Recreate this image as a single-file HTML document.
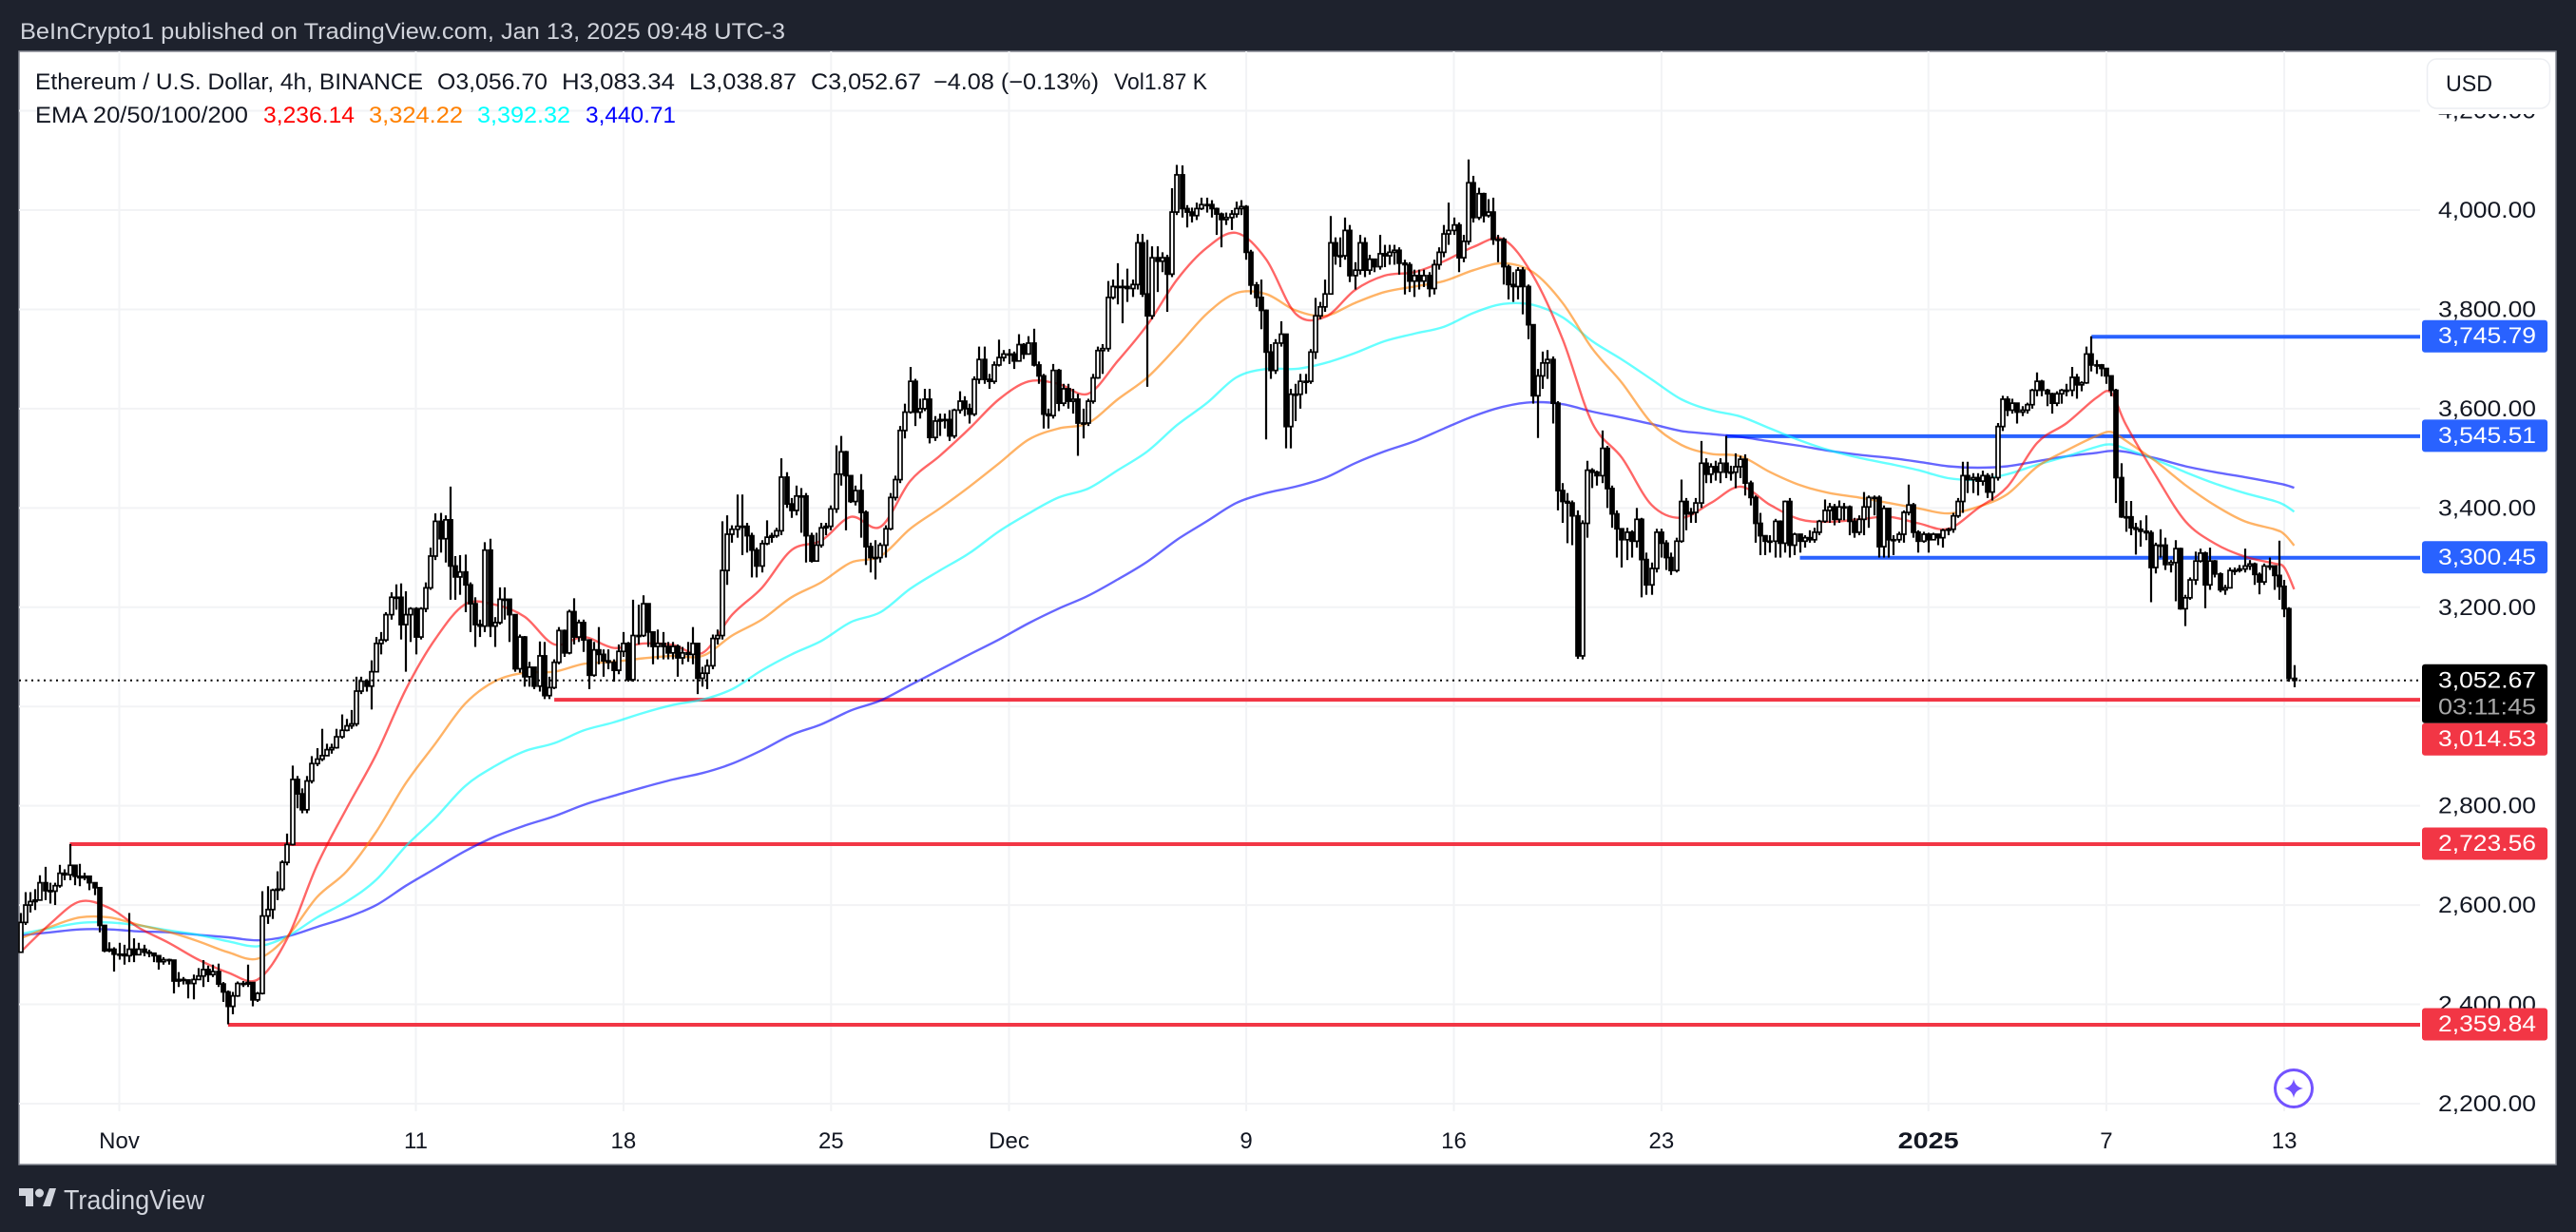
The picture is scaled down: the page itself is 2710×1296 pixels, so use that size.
<!DOCTYPE html>
<html lang="en">
<head>
<meta charset="utf-8">
<title>ETHUSD chart</title>
<style>
html,body{margin:0;padding:0;background:#1e222d;width:2710px;height:1296px;overflow:hidden}
svg{display:block}
text{font-family:"Liberation Sans",sans-serif}
</style>
</head>
<body>
<svg id="chart" xmlns="http://www.w3.org/2000/svg" width="2710" height="1296" viewBox="0 0 2710 1296">
  <rect x="0" y="0" width="2710" height="1296" fill="#1e222d"/>
  <text x="21" y="41" font-size="24" fill="#d1d4dc" textLength="805" lengthAdjust="spacingAndGlyphs">BeInCrypto1 published on TradingView.com, Jan 13, 2025 09:48 UTC-3</text>
  <rect x="20" y="54" width="2669" height="1171" fill="#ffffff" stroke="#868993" stroke-width="1.5"/>
  <g id="grid"></g>
  <g id="levels"></g>
  <g id="emas"></g>
  <g id="candles"></g>
  <g id="lastline"></g>
  <g id="axis"></g>
  <g id="labels"></g>

  <g font-size="24" fill="#131722">
    <text x="37" y="94" textLength="408" lengthAdjust="spacingAndGlyphs">Ethereum / U.S. Dollar, 4h, BINANCE</text>
    <text x="460" y="94" textLength="116" lengthAdjust="spacingAndGlyphs">O3,056.70</text>
    <text x="591" y="94" textLength="119" lengthAdjust="spacingAndGlyphs">H3,083.34</text>
    <text x="725" y="94" textLength="113" lengthAdjust="spacingAndGlyphs">L3,038.87</text>
    <text x="853" y="94" textLength="116" lengthAdjust="spacingAndGlyphs">C3,052.67</text>
    <text x="982" y="94" textLength="174" lengthAdjust="spacingAndGlyphs">−4.08 (−0.13%)</text>
    <text x="1172" y="94" textLength="98" lengthAdjust="spacingAndGlyphs">Vol1.87 K</text>
    <text x="37" y="129" textLength="224" lengthAdjust="spacingAndGlyphs">EMA 20/50/100/200</text>
    <text x="277" y="129" fill="#ff0000" textLength="96" lengthAdjust="spacingAndGlyphs">3,236.14</text>
    <text x="388" y="129" fill="#ff8000" textLength="99" lengthAdjust="spacingAndGlyphs">3,324.22</text>
    <text x="502" y="129" fill="#00ffff" textLength="98" lengthAdjust="spacingAndGlyphs">3,392.32</text>
    <text x="616" y="129" fill="#0000ff" textLength="95" lengthAdjust="spacingAndGlyphs">3,440.71</text>
  </g>

  <rect x="2548" y="55" width="140" height="65" fill="#ffffff"/>
  <g>
    <rect x="2553.500" y="62" width="129" height="52" rx="10" fill="#ffffff" stroke="#eceef2" stroke-width="1.5"/>
    <text x="2573" y="96" font-size="24" fill="#131722" textLength="49" lengthAdjust="spacingAndGlyphs">USD</text>
  </g>

  <g>
    <circle cx="2413" cy="1145" r="19.5" fill="#ffffff" stroke="#7353ff" stroke-width="3"/>
    <path d="M2413 1135 Q2414.5 1143.5 2423 1145 Q2414.5 1146.5 2413 1155 Q2411.500 1146.500 2403 1145 Q2411.500 1143.500 2413 1135 Z" fill="#7353ff"/>
  </g>

  <g fill="#d1d4dc">
    <path d="M20 1250H35V1269H27V1258H20Z M45 1269L52 1250H59L53 1269Z"/>
    <circle cx="41.500" cy="1255" r="4.500"/>
    <text x="67" y="1272" font-size="29" textLength="148" lengthAdjust="spacingAndGlyphs">TradingView</text>
  </g>
</svg>

<script>
// Candle data (USD). Bars are 4h; each open is the previous close.
const firstOpen = 2505;
const closes = [
2565,2600,2607,2610,2645,2629,2628,2639,2664,2661,
2680,2658,2655,2658,2645,2635,2559,2508,2511,2501,
2501,2498,2511,2500,2511,2505,2503,2498,2486,2490,
2489,2447,2450,2449,2442,2450,2457,2470,2460,2466,
2441,2425,2396,2417,2442,2441,2444,2409,2422,2578,
2591,2630,2632,2686,2722,2853,2824,2792,2850,2885,
2894,2901,2913,2917,2939,2952,2961,2965,3031,3051,
3041,3070,3127,3134,3185,3220,3220,3165,3185,3197,
3140,3197,3239,3303,3373,3338,3376,3283,3261,3271,
3245,3207,3165,3162,3315,3162,3169,3216,3216,3185,
3076,3140,3060,3079,3041,3102,3022,3038,3089,3153,
3108,3191,3140,3169,3134,3063,3114,3105,3092,3089,
3073,3111,3127,3054,3143,3143,3207,3150,3121,3127,
3121,3108,3121,3098,3108,3105,3127,3057,3067,3082,
3137,3143,3274,3347,3357,3363,3363,3344,3315,3283,
3328,3341,3344,3354,3462,3408,3395,3424,3424,3344,
3293,3325,3360,3363,3398,3468,3513,3465,3413,3435,
3391,3322,3300,3300,3325,3358,3421,3457,3556,3593,
3655,3593,3600,3619,3542,3575,3578,3578,3545,3597,
3615,3600,3589,3659,3699,3659,3655,3688,3703,3710,
3710,3696,3729,3710,3732,3688,3666,3589,3586,3677,
3611,3640,3615,3619,3571,3571,3615,3662,3717,3721,
3824,3846,3846,3846,3842,3850,3934,3831,3787,3904,
3897,3904,3871,3996,4071,4003,3996,3989,4003,4011,
4011,4003,3992,3981,3985,3992,4003,4007,3915,3849,
3824,3798,3714,3677,3732,3750,3564,3629,3629,3655,
3655,3714,3787,3805,3831,3934,3908,3908,3959,3868,
3879,3934,3879,3901,3886,3912,3908,3915,3919,3893,
3890,3857,3868,3857,3868,3842,3890,3915,3952,3959,
3970,3904,3937,4055,3985,4033,3989,3996,3941,3941,
3886,3850,3846,3879,3846,3769,3626,3666,3692,3699,
3611,3435,3413,3410,3384,3102,3369,3476,3472,3465,
3520,3439,3388,3358,3336,3351,3333,3377,3296,3245,
3278,3351,3329,3300,3274,3333,3413,3388,3391,3410,
3490,3468,3483,3472,3490,3472,3472,3483,3498,3450,
3421,3369,3344,3333,3333,3373,3329,3413,3325,3347,
3333,3340,3336,3351,3373,3395,3402,3377,3402,3402,
3373,3351,3377,3402,3421,3421,3322,3399,3336,3336,
3347,3391,3406,3351,3333,3347,3336,3347,3340,3355,
3357,3384,3413,3465,3457,3461,3454,3465,3432,3461,
3564,3619,3597,3611,3593,3597,3608,3637,3655,3637,
3630,3611,3630,3637,3637,3663,3648,3652,3710,3688,
3688,3681,3666,3637,3461,3382,3382,3360,3357,3353,
3350,3280,3325,3325,3286,3290,3318,3197,3219,3255,
3293,3309,3245,3293,3267,3235,3239,3274,3274,3277,
3283,3287,3266,3251,3283,3283,3264,3242,3197,3056.70,
3052.67];
const highs = [
2584,2626,2626,2632,2660,2677,2645,2645,2681,2672,
2723,2681,2683,2665,2657,2645,2635,2560,2525,2515,
2524,2520,2584,2533,2524,2520,2510,2503,2495,2495,
2492,2490,2465,2455,2450,2460,2473,2489,2478,2480,
2482,2445,2428,2425,2446,2447,2480,2437,2425,2628,
2638,2633,2668,2690,2744,2881,2860,2835,2860,2900,
2916,2955,2925,2925,2955,2984,2975,2993,3060,3060,
3055,3093,3140,3150,3190,3230,3246,3248,3232,3200,
3200,3200,3250,3320,3389,3390,3385,3443,3303,3305,
3306,3250,3220,3175,3331,3338,3180,3240,3240,3210,
3185,3145,3142,3090,3065,3131,3130,3060,3095,3160,
3155,3195,3218,3175,3175,3135,3130,3160,3115,3115,
3095,3125,3150,3130,3215,3205,3224,3205,3150,3155,
3150,3130,3130,3125,3120,3130,3160,3125,3080,3095,
3145,3155,3373,3385,3365,3427,3427,3370,3350,3320,
3335,3375,3350,3360,3500,3472,3420,3445,3440,3430,
3350,3350,3370,3370,3405,3526,3545,3515,3465,3445,
3468,3395,3330,3335,3330,3365,3430,3465,3565,3610,
3684,3660,3620,3640,3640,3585,3590,3590,3597,3600,
3635,3625,3610,3665,3725,3725,3670,3695,3739,3718,
3720,3715,3750,3732,3746,3761,3695,3670,3600,3690,
3680,3650,3650,3640,3630,3600,3620,3670,3725,3730,
3857,3860,3893,3860,3882,3860,3952,3952,3940,3927,
3927,3915,3910,4044,4091,4090,4010,4005,4015,4025,
4025,4020,4005,3995,3995,4000,4017,4020,4010,3920,
3855,3860,3800,3730,3740,3776,3750,3640,3650,3670,
3670,3720,3823,3815,3860,3988,3945,3945,3985,3970,
3895,3950,3945,3910,3902,3950,3930,3930,3930,3925,
3900,3895,3880,3880,3880,3875,3900,3925,3970,4015,
3985,3975,3950,4102,4069,4045,4035,4022,4025,3950,
3945,3890,3875,3885,3885,3850,3770,3680,3715,3718,
3705,3615,3450,3430,3415,3395,3375,3495,3480,3475,
3556,3525,3445,3395,3352,3360,3355,3400,3380,3310,
3290,3358,3358,3335,3310,3340,3457,3420,3400,3420,
3535,3500,3490,3495,3500,3545,3485,3510,3505,3508,
3455,3425,3390,3345,3345,3378,3375,3415,3420,3350,
3345,3345,3355,3360,3376,3417,3410,3408,3415,3410,
3405,3380,3385,3432,3425,3425,3425,3405,3400,3345,
3352,3395,3447,3410,3355,3352,3350,3350,3345,3358,
3360,3390,3420,3493,3493,3470,3470,3475,3470,3470,
3571,3626,3625,3620,3612,3605,3612,3640,3673,3658,
3640,3632,3635,3640,3650,3684,3670,3655,3725,3745.79,
3698,3690,3680,3665,3640,3490,3414,3414,3370,3375,
3385,3355,3330,3357,3340,3295,3335,3320,3225,3260,
3312,3318,3312,3320,3295,3270,3245,3280,3280,3285,
3318,3295,3290,3270,3288,3300,3280,3334,3255,3200,
3083.34];
const lows = [
2505,2560,2585,2590,2610,2610,2603,2600,2635,2650,
2650,2640,2638,2650,2630,2620,2545,2505,2505,2466,
2490,2480,2485,2485,2500,2497,2495,2485,2470,2480,
2480,2422,2435,2440,2412,2410,2450,2435,2445,2455,
2435,2405,2359.84,2380,2415,2435,2435,2396,2405,2420,
2562,2572,2610,2628,2680,2720,2795,2785,2785,2845,
2880,2890,2900,2905,2915,2935,2950,2955,2960,3025,
3030,2994,3070,3105,3130,3175,3195,3135,3070,3130,
3105,3135,3190,3235,3295,3310,3290,3215,3215,3225,
3190,3150,3120,3140,3150,3140,3120,3165,3175,3130,
3070,3068,3040,3040,3035,3030,3015,3015,3035,3085,
3100,3105,3125,3130,3110,3035,3060,3085,3060,3075,
3050,3065,3100,3050,3050,3125,3140,3120,3085,3095,
3095,3095,3095,3060,3085,3090,3085,3025,3040,3035,
3075,3125,3135,3245,3330,3340,3305,3310,3260,3260,
3270,3325,3330,3340,3345,3400,3380,3385,3350,3290,
3290,3295,3320,3345,3355,3390,3445,3355,3410,3405,
3340,3285,3270,3256,3290,3300,3355,3415,3450,3540,
3590,3565,3580,3595,3530,3535,3545,3560,3535,3540,
3590,3585,3570,3585,3650,3650,3640,3650,3685,3695,
3690,3680,3695,3700,3710,3685,3650,3560,3560,3580,
3595,3605,3600,3590,3505,3540,3565,3610,3660,3670,
3715,3820,3810,3772,3815,3825,3840,3825,3644,3780,
3835,3875,3795,3865,3990,3985,3965,3975,3980,4000,
3995,3985,3950,3925,3970,3960,3985,3990,3900,3830,
3805,3760,3538,3660,3670,3725,3520,3520,3575,3600,
3630,3650,3700,3780,3795,3830,3890,3885,3900,3855,
3840,3870,3865,3870,3875,3880,3885,3890,3890,3870,
3830,3835,3825,3840,3845,3825,3830,3880,3905,3930,
3950,3875,3895,3930,3975,3980,3975,3985,3930,3895,
3850,3820,3815,3820,3790,3740,3610,3541,3640,3660,
3570,3395,3370,3329,3325,3096,3095,3340,3440,3445,
3450,3400,3360,3300,3280,3295,3300,3320,3220,3225,
3225,3270,3300,3275,3265,3270,3330,3355,3370,3370,
3400,3450,3450,3455,3450,3460,3455,3440,3460,3425,
3405,3330,3305,3305,3310,3300,3300,3310,3300,3305,
3310,3320,3330,3330,3345,3370,3370,3365,3370,3375,
3345,3340,3345,3345,3360,3385,3300,3300,3300,3305,
3330,3330,3385,3340,3310,3330,3310,3335,3325,3320,
3345,3350,3380,3390,3430,3430,3425,3445,3420,3415,
3455,3555,3585,3590,3570,3585,3590,3600,3625,3625,
3605,3590,3605,3610,3625,3625,3620,3635,3650,3675,
3670,3665,3650,3625,3410,3380,3352,3345,3306,3322,
3335,3210,3268,3300,3275,3270,3212,3195,3162,3215,
3245,3290,3198,3235,3260,3230,3225,3240,3265,3270,
3270,3275,3245,3226,3245,3275,3235,3215,3180,3050,
3038.87];

// EMA readings, sampled at these bars
const emaBars = [0,6,12,18,24,30,36,42,48,54,60,66,72,78,84,90,96,102,108,114,120,126,132,138,144,150,156,162,168,174,180,186,192,198,204,210,216,222,228,234,240,246,252,258,264,270,276,282,288,294,300,306,312,318,324,330,336,342,348,354,360,366,372,378,384,390,396,402,408,414,420,423,426,432,438,444,450,456,458,460];
const ema20 = [2505,2562,2607,2594,2554,2524,2490,2464,2450,2533,2680,2795,2904,3035,3137,3206,3205,3181,3125,3140,3118,3127,3124,3108,3185,3239,3315,3334,3382,3362,3454,3505,3560,3619,3655,3650,3630,3696,3769,3860,3924,3954,3901,3791,3785,3839,3868,3875,3897,3926,3941,3868,3740,3571,3501,3406,3380,3410,3443,3406,3377,3372,3377,3382,3369,3358,3399,3443,3531,3571,3622,3632,3567,3465,3373,3328,3302,3288,3280,3236.14];
const ema50 = [2533,2556,2575,2575,2560,2546,2527,2505,2492,2537,2616,2668,2748,2846,2926,3006,3051,3068,3070,3086,3090,3097,3102,3102,3143,3175,3220,3250,3290,3303,3358,3399,3443,3490,3538,3560,3571,3619,3663,3725,3791,3833,3831,3798,3787,3813,3835,3846,3857,3879,3893,3875,3813,3721,3652,3571,3527,3509,3504,3472,3446,3430,3421,3410,3399,3389,3402,3428,3483,3516,3545,3553,3535,3494,3446,3405,3373,3357,3347,3324.22];
const ema100 = [2542,2553,2564,2565,2559,2549,2540,2527,2517,2537,2575,2607,2651,2719,2776,2840,2880,2910,2926,2952,2968,2987,3003,3014,3035,3073,3105,3132,3170,3190,3237,3274,3309,3353,3389,3421,3439,3476,3514,3567,3611,3663,3680,3680,3692,3712,3736,3751,3765,3793,3811,3809,3784,3736,3699,3659,3619,3597,3584,3560,3536,3516,3501,3489,3476,3460,3457,3468,3487,3504,3523,3528,3519,3497,3472,3449,3430,3414,3406,3392.32];
const ema200 = [2539,2545,2551,2551,2547,2545,2540,2535,2529,2537,2556,2575,2600,2639,2674,2709,2738,2760,2779,2802,2820,2837,2853,2866,2885,2912,2943,2964,2992,3012,3043,3074,3105,3135,3168,3197,3223,3256,3292,3336,3373,3410,3430,3443,3461,3490,3514,3534,3560,3585,3604,3613,3609,3594,3582,3569,3555,3549,3543,3534,3525,3515,3507,3501,3493,3484,3481,3484,3494,3504,3511,3515,3513,3500,3484,3472,3462,3451,3447,3440.71];

// Axis data
const priceTicks = [4200,4000,3800,3600,3400,3200,3000,2800,2600,2400,2200];
const timeBars = [20,80,122,164,200,248,290,332,386,422,458];
const timeLabels = ['Nov','11','18','25','Dec','9','16','23','2025','7','13'];

// Horizontal level drawings
const levelPrices = [3745.79,3545.51,3300.45,3014.53,2723.56,2359.84];
const levelStartBars = [419,345,360,108,10,42];
const levelKinds = ['resistance','resistance','resistance','support','support','support'];
const lastPrice = 3052.67;
const countdown = '03:11:45';

const NS = 'http://www.w3.org/2000/svg';
const plotLeft = 20, plotRight = 2546, gridBottom = 1169, plotTop = 54;
function xOf(i){ return 21.5 + 5.2 * i; }
function yOf(p){ return 221 + (4000 - p) * 0.5222; }
function fmt(p){ return p.toLocaleString('en-US',{minimumFractionDigits:2,maximumFractionDigits:2}); }
function make(tag, parent){ const el = document.createElementNS(NS, tag); parent.appendChild(el); return el; }
function set(el, props){ for (const k in props) el.setAttribute(k, props[k]); return el; }
// Smooth curve through every sampled EMA reading (Catmull-Rom to Bezier)
function smoothPath(values){
  const pts = values.map(function(v,k){ return [xOf(emaBars[k]), yOf(v)]; });
  let d = 'M' + pts[0][0].toFixed(1) + ' ' + pts[0][1].toFixed(1);
  for (let k = 0; k < pts.length - 1; k++) {
    const a = pts[Math.max(k-1,0)], b = pts[k], c = pts[k+1], e = pts[Math.min(k+2,pts.length-1)];
    const c1x = b[0] + (c[0]-a[0])/6, c1y = b[1] + (c[1]-a[1])/6;
    const c2x = c[0] - (e[0]-b[0])/6, c2y = c[1] - (e[1]-b[1])/6;
    d += 'C' + c1x.toFixed(1) + ' ' + c1y.toFixed(1) + ' ' + c2x.toFixed(1) + ' ' + c2y.toFixed(1) + ' ' + c[0].toFixed(1) + ' ' + c[1].toFixed(1);
  }
  return d;
}

const gridG = document.getElementById('grid');
const axisG = document.getElementById('axis');
priceTicks.forEach(function(p){
  const line = make('line', gridG);
  
  
  set(line,{x1:plotLeft,x2:plotRight,y1:yOf(p),y2:yOf(p),stroke:'#f2f3f5','stroke-width':2});
  const t = make('text', axisG);
  
  
  set(t,{x:2565,y:yOf(p)+8,'font-size':24,fill:'#131722',textLength:103,lengthAdjust:'spacingAndGlyphs'});
  t.textContent = fmt(p);
});
timeBars.forEach(function(b,k){
  const line = make('line', gridG);
  
  
  set(line,{x1:xOf(b),x2:xOf(b),y1:plotTop,y2:gridBottom,stroke:'#f2f3f5','stroke-width':2});
  const t = make('text', axisG);
  
  
  const isYear = timeLabels[k] === '2025';
  set(t,{x:xOf(b),y:1208,'font-size':24,fill:'#131722','text-anchor':'middle','font-weight':isYear?'bold':'normal'});
  if (isYear) { set(t,{textLength:64,lengthAdjust:'spacingAndGlyphs'}); }
  t.textContent = timeLabels[k];
});

const levelG = document.getElementById('levels');
levelPrices.forEach(function(p,k){
  const line = make('line', levelG);
  
  
  set(line,{x1:xOf(levelStartBars[k]),x2:plotRight,y1:yOf(p)+0.5,y2:yOf(p)+0.5,stroke:levelKinds[k]==='support'?'#f23645':'#2962ff','stroke-width':4});
});

const emaG = document.getElementById('emas');
[[ema200,'#0000ff','ema-200-line'],[ema100,'#00ffff','ema-100-line'],[ema50,'#ff8000','ema-50-line'],[ema20,'#ff0000','ema-20-line']].forEach(function(s){
  const line = make('path', emaG);
  
  
  set(line,{d:smoothPath(s[0]),fill:'none',stroke:s[1],'stroke-width':2.4,'stroke-opacity':0.6,'stroke-linejoin':'round'});
});

const candleG = document.getElementById('candles');
closes.forEach(function(c,i){
  const o = i ? closes[i-1] : firstOpen;
  const x = Math.round(xOf(i));
  const wick = make('line', candleG);
  
  
  set(wick,{x1:x,x2:x,y1:yOf(highs[i]),y2:yOf(lows[i]),stroke:'#000','stroke-width':2.2});
  const body = make('rect', candleG);
  
  
  const top = yOf(Math.max(o,c)), bot = yOf(Math.min(o,c));
  set(body,{x:x-2,y:top,width:4,height:Math.max(bot-top,1),fill:c>=o?'#fff':'#000',stroke:'#000','stroke-width':1.7});
});

const lastG = document.getElementById('lastline');
const dotted = make('line', lastG);


set(dotted,{x1:plotLeft,x2:plotRight,y1:yOf(lastPrice),y2:yOf(lastPrice),stroke:'#000','stroke-width':2,'stroke-dasharray':'2 4.5'});

const labelG = document.getElementById('labels');
const lastTop = yOf(lastPrice) - 17;
const lastBottom = lastTop + 62;
const lastBox = make('rect', labelG);


set(lastBox,{x:2548,y:lastTop,width:132,height:62,rx:3,fill:'#000'});
const lastText = make('text', labelG);


set(lastText,{x:2565,y:yOf(lastPrice)+8,'font-size':24,fill:'#fff',textLength:103,lengthAdjust:'spacingAndGlyphs'});
lastText.textContent = fmt(lastPrice);
const cdText = make('text', labelG);


set(cdText,{x:2565,y:yOf(lastPrice)+36,'font-size':24,fill:'#a8a8a8',textLength:103,lengthAdjust:'spacingAndGlyphs'});
cdText.textContent = countdown;

levelPrices.forEach(function(p,k){
  let top = yOf(p) - 17;
  if (top < lastBottom && top + 34 > lastTop) { top = lastBottom; }
  const box = make('rect', labelG);
  
  
  set(box,{x:2548,y:top,width:132,height:34,rx:3,fill:levelKinds[k]==='support'?'#f23645':'#2962ff'});
  const t = make('text', labelG);
  
  
  set(t,{x:2565,y:top+24.500,'font-size':24,fill:'#fff',textLength:103,lengthAdjust:'spacingAndGlyphs'});
  t.textContent = fmt(p);
});
</script>
</body>
</html>
